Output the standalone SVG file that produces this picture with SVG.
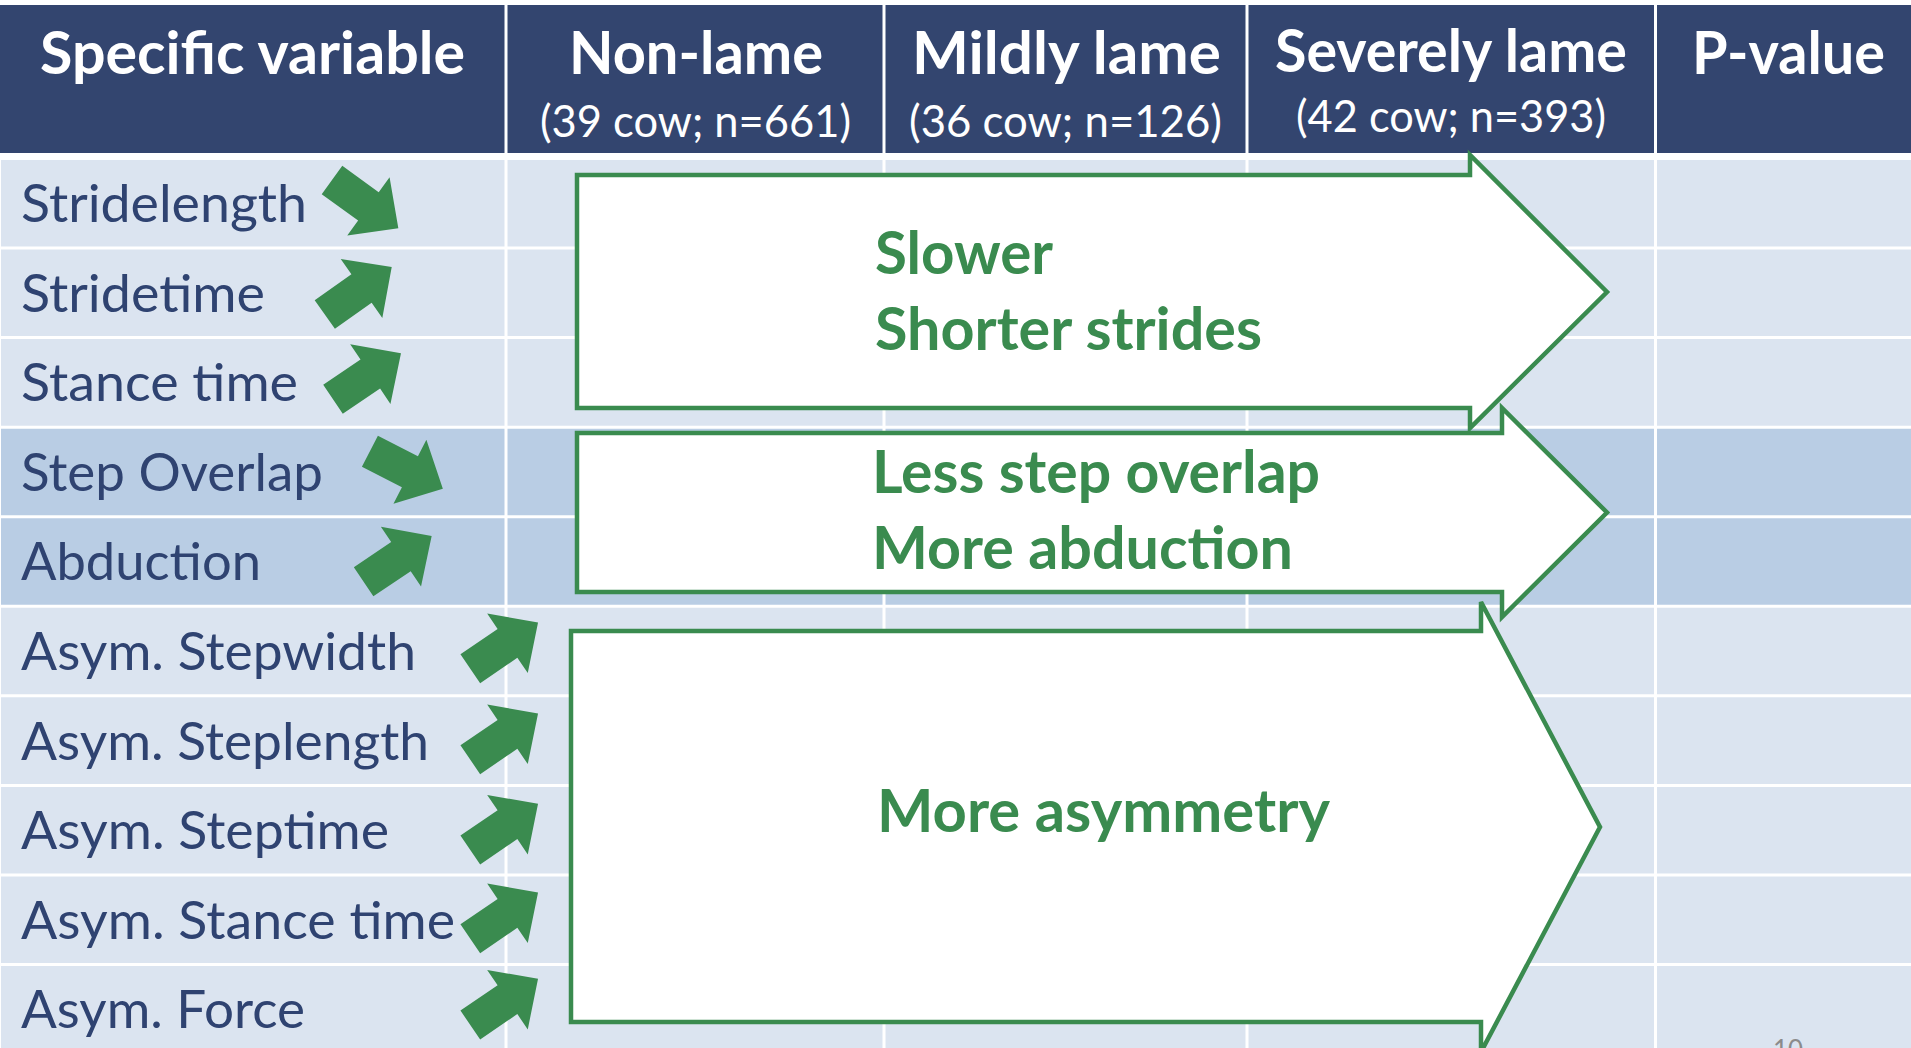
<svg xmlns="http://www.w3.org/2000/svg" width="1911" height="1048" viewBox="0 0 1911 1048">
<style>
text { font-family: Lato, "Open Sans", "Liberation Sans", sans-serif; }
.hd { font-weight: 700; font-size: 60px; fill: #ffffff; }
.sub { font-size: 44px; fill: #ffffff; }
.row { font-size: 53px; fill: #2F4371; }
.gt { font-weight: 700; font-size: 59px; fill: #3A8B4F; }
.big { fill: #ffffff; stroke: #3A8B4F; stroke-width: 4.5; stroke-linejoin: miter; }
.sm { fill: #3A8B4F; }
.light { fill: #DBE4F0; }
.dark { fill: #B9CDE4; }
.grid { stroke: #ffffff; stroke-width: 3; }
</style>
<defs>
<path id="smallArrow" d="M0,-17.5 H45 V-36 L82,0 L45,36 V17.5 H0 Z"/>
</defs>
<rect x="0" y="0" width="1911" height="1048" fill="#ffffff"/>
<g id="table">
<rect x="0" y="5" width="1911" height="148" fill="#33456F"/>
<rect class="light" x="1" y="160" width="1910" height="268"/>
<rect class="dark" x="1" y="428" width="1910" height="178"/>
<rect class="light" x="1" y="606" width="1910" height="442"/>
<g class="grid">
<line x1="0" y1="248" x2="1911" y2="248"/>
<line x1="0" y1="337.6" x2="1911" y2="337.6"/>
<line x1="0" y1="427.2" x2="1911" y2="427.2"/>
<line x1="0" y1="516.7" x2="1911" y2="516.7"/>
<line x1="0" y1="606.3" x2="1911" y2="606.3"/>
<line x1="0" y1="695.8" x2="1911" y2="695.8"/>
<line x1="0" y1="785.4" x2="1911" y2="785.4"/>
<line x1="0" y1="874.9" x2="1911" y2="874.9"/>
<line x1="0" y1="964.5" x2="1911" y2="964.5"/>
<line x1="506" y1="5" x2="506" y2="1048"/>
<line x1="884" y1="5" x2="884" y2="1048"/>
<line x1="1247" y1="5" x2="1247" y2="1048"/>
<line x1="1655.5" y1="5" x2="1655.5" y2="1048"/>
</g>
</g>
<g id="header">
<g id="h-variable"><text class="hd" x="40" y="74" textLength="425" lengthAdjust="spacingAndGlyphs">Specific variable</text></g>
<g id="h-nonlame"><text class="hd" x="569" y="74" textLength="254" lengthAdjust="spacingAndGlyphs">Non-lame</text>
<text class="sub" x="540" y="137" textLength="311" lengthAdjust="spacingAndGlyphs">(39 cow; n=661)</text></g>
<g id="h-mild"><text class="hd" x="912" y="74" textLength="309" lengthAdjust="spacingAndGlyphs">Mildly lame</text>
<text class="sub" x="909" y="137" textLength="313" lengthAdjust="spacingAndGlyphs">(36 cow; n=126)</text></g>
<g id="h-severe"><text class="hd" x="1275" y="72" textLength="352" lengthAdjust="spacingAndGlyphs">Severely lame</text>
<text class="sub" x="1296" y="132" textLength="310" lengthAdjust="spacingAndGlyphs">(42 cow; n=393)</text></g>
<g id="h-pvalue"><text class="hd" x="1692" y="74" textLength="193" lengthAdjust="spacingAndGlyphs">P-value</text></g>
</g>
<g id="rows">
<g id="r-stridelength"><text class="row" x="21" y="222" textLength="286" lengthAdjust="spacingAndGlyphs">Stridelength</text>
<use href="#smallArrow" class="sm" transform="translate(332,180) rotate(36)"/></g>
<g id="r-stridetime"><text class="row" x="21" y="311.6" textLength="244" lengthAdjust="spacingAndGlyphs">Stridetime</text>
<use href="#smallArrow" class="sm" transform="translate(324.8,314.5) rotate(-35.3)"/></g>
<g id="r-stancetime"><text class="row" x="21" y="401.2" textLength="277" lengthAdjust="spacingAndGlyphs">Stance time</text>
<use href="#smallArrow" class="sm" transform="translate(333,399.2) rotate(-34)"/></g>
<g id="r-stepoverlap"><text class="row" x="21" y="490.8" textLength="302" lengthAdjust="spacingAndGlyphs">Step Overlap</text>
<use href="#smallArrow" class="sm" transform="translate(369.9,451.2) rotate(27.2)"/></g>
<g id="r-abduction"><text class="row" x="21" y="580.4" textLength="240" lengthAdjust="spacingAndGlyphs">Abduction</text>
<use href="#smallArrow" class="sm" transform="translate(363.6,581.7) rotate(-33.9)"/></g>
<g id="r-asym-stepwidth"><text class="row" x="21" y="670" textLength="395" lengthAdjust="spacingAndGlyphs">Asym. Stepwidth</text>
<use href="#smallArrow" class="sm" transform="translate(470.3,668.7) rotate(-34.3)"/></g>
<g id="r-asym-steplength"><text class="row" x="21" y="759.6" textLength="408" lengthAdjust="spacingAndGlyphs">Asym. Steplength</text>
<use href="#smallArrow" class="sm" transform="translate(470.3,759.7) rotate(-34.3)"/></g>
<g id="r-asym-steptime"><text class="row" x="21" y="849.2" textLength="368" lengthAdjust="spacingAndGlyphs">Asym. Steptime</text>
<use href="#smallArrow" class="sm" transform="translate(470.3,850) rotate(-34.3)"/></g>
<g id="r-asym-stancetime"><text class="row" x="21" y="938.8" textLength="434" lengthAdjust="spacingAndGlyphs">Asym. Stance time</text>
<use href="#smallArrow" class="sm" transform="translate(470.3,938.7) rotate(-34.3)"/></g>
<g id="r-asym-force"><text class="row" x="21" y="1028.4" textLength="284" lengthAdjust="spacingAndGlyphs">Asym. Force</text>
<use href="#smallArrow" class="sm" transform="translate(470.3,1025) rotate(-34.3)"/></g>
</g>
<g id="connectors">
<g id="arrow-slower">
<path class="big" d="M577,175 L1470,175 L1470,155 L1607,292 L1470,428 L1470,408 L577,408 Z"/>
<text class="gt" x="875" y="274" textLength="178" lengthAdjust="spacingAndGlyphs">Slower</text>
<text class="gt" x="875" y="350" textLength="387" lengthAdjust="spacingAndGlyphs">Shorter strides</text>
</g>
<g id="arrow-overlap">
<path class="big" d="M577,433 L1502,433 L1502,408 L1607,512.5 L1502,617 L1502,592 L577,592 Z"/>
<text class="gt" x="872" y="493" textLength="448" lengthAdjust="spacingAndGlyphs">Less step overlap</text>
<text class="gt" x="872" y="569" textLength="421" lengthAdjust="spacingAndGlyphs">More abduction</text>
</g>
<g id="arrow-asymmetry">
<path class="big" d="M571,631 L1481,631 L1481,602 L1600,827 L1481,1052 L1481,1022 L571,1022 Z"/>
<text class="gt" x="877" y="832" textLength="453" lengthAdjust="spacingAndGlyphs">More asymmetry</text>
</g>
</g>
<text x="1773" y="1059" font-size="27" fill="#8B8B8B" textLength="30" lengthAdjust="spacingAndGlyphs">10</text>
</svg>
